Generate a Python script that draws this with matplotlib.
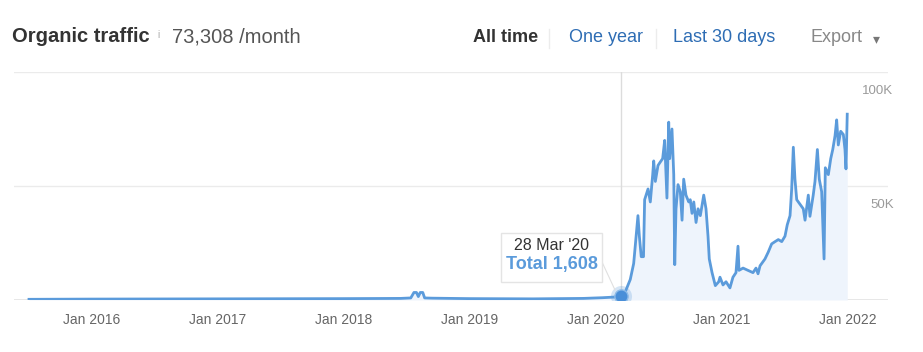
#! /usr/bin/env python3
import matplotlib
matplotlib.use('Agg')
import matplotlib.pyplot as plt

plt.rcParams['font.family'] = ['Liberation Sans', 'DejaVu Sans']

# organic traffic (decimal year -> visits)
years = [2015.50, 2016.00, 2016.50, 2017.00, 2017.50, 2018.00, 2018.45, 2018.53,
         2018.555, 2018.575, 2018.59, 2018.605, 2018.625, 2018.64, 2018.70,
         2019.00, 2019.50, 2019.90, 2020.05, 2020.15, 2020.198,
         2020.233, 2020.272, 2020.299, 2020.312, 2020.333, 2020.344, 2020.359,
         2020.377, 2020.386, 2020.413, 2020.431, 2020.450, 2020.458, 2020.471,
         2020.492, 2020.510, 2020.529, 2020.545, 2020.563, 2020.577, 2020.585,
         2020.603, 2020.617, 2020.625, 2020.635, 2020.651, 2020.669, 2020.683,
         2020.696, 2020.714, 2020.736, 2020.748, 2020.762, 2020.776, 2020.794,
         2020.810, 2020.828, 2020.855, 2020.873, 2020.889, 2020.899, 2020.921,
         2020.947, 2020.974, 2020.984, 2021.008, 2021.032, 2021.063, 2021.087,
         2021.111, 2021.127, 2021.135, 2021.167, 2021.206, 2021.246, 2021.270,
         2021.286, 2021.302, 2021.341, 2021.367, 2021.394, 2021.421, 2021.447,
         2021.474, 2021.500, 2021.518, 2021.540, 2021.553, 2021.566, 2021.579,
         2021.593, 2021.619, 2021.645, 2021.659, 2021.685, 2021.698, 2021.724,
         2021.738, 2021.757, 2021.772, 2021.791, 2021.810, 2021.820, 2021.844,
         2021.863, 2021.879, 2021.897, 2021.910, 2021.923, 2021.942, 2021.963,
         2021.976, 2021.984, 2021.994]
visits = [300, 400, 450, 500, 550, 600, 700, 900,
          3300, 3300, 1500, 3300, 3300, 900, 800,
          600, 500, 700, 1000, 1300, 1608,
          3700, 9000, 16000, 24000, 37000, 28000, 19000,
          19000, 44000, 48700, 43000, 55000, 61000, 52000,
          59000, 60500, 62000, 70000, 44700, 78000, 62000,
          75000, 55000, 15500, 40000, 50600, 47500, 35000,
          53000, 46000, 43000, 44000, 38000, 43000, 34000,
          40000, 37000, 46000, 40000, 28000, 18000, 12000,
          6300, 8000, 10000, 6600, 8000, 5300, 10000,
          12000, 23600, 13000, 14000, 13000, 12000, 14000,
          11500, 15000, 18000, 21000, 24600, 25600, 26500,
          25600, 28000, 33000, 37000, 48700, 67000, 53000,
          44000, 42000, 40000, 35000, 46000, 36700, 46000,
          52000, 66000, 53000, 47500, 18000, 58000, 55000,
          62000, 66000, 72000, 79000, 68000, 74000, 72600,
          66000, 57500, 81500]

tick_years = [2016, 2017, 2018, 2019, 2020, 2021, 2022]
tick_labels = ['Jan 2016', 'Jan 2017', 'Jan 2018', 'Jan 2019',
               'Jan 2020', 'Jan 2021', 'Jan 2022']
y_grid = [50000, 100000]
y_labels = ['50K', '100K']

hover_year = 2020.198
hover_value = 1608

W, H = 923, 352
fig = plt.figure(figsize=(W / 100, H / 100), dpi=100)


def px(x, y):
    return x / W, 1 - y / H


ax = fig.add_axes([14 / W, 1 - 300 / H, (888 - 14) / W, (300 - 72) / H])
ax.set_xlim(2016 + (14 - 92) / 126, 2016 + (888 - 92) / 126)
ax.set_ylim(0, 100000)
for s in ax.spines.values():
    s.set_visible(False)

for g in y_grid:
    ax.axhline(g, color='#ebebeb', lw=1, zorder=0)
ax.axhline(0, color='#e3e3e3', lw=1.2, zorder=0)
ax.axvline(hover_year, color='#dcdcdc', lw=1, zorder=1)

ax.fill_between(years, visits, color='#eef4fc', zorder=1, lw=0)
ax.plot(years, visits, color='#5b9bdb', lw=2, solid_joinstyle='round', zorder=3)

ax.scatter([hover_year], [hover_value], s=230, color='#5b9bdb', alpha=0.25, lw=0, zorder=4)
ax.scatter([hover_year], [hover_value], s=90, color='#4a8fd8', edgecolor='#8dbbe8',
           lw=1, zorder=5)

ax.set_xticks(tick_years)
ax.set_xticklabels(tick_labels, color='#666666', fontsize=10)
ax.tick_params(axis='x', length=0, pad=9)
ax.set_yticks([])

for g, lab in zip(y_grid, y_labels):
    ax.annotate(lab, xy=(1, g), xycoords=('axes fraction', 'data'),
                xytext=(4, -13.5), textcoords='offset points',
                ha='right', va='center', color='#9a9a9a', fontsize=9.5)

# tooltip
box = plt.Rectangle(px(501, 282), 101 / W, 49 / H, transform=fig.transFigure,
                    facecolor='white', edgecolor='#e4e4e4', lw=1, zorder=6)
fig.add_artist(box)
fig.add_artist(plt.Line2D([602 / W, 615 / W], [1 - 262 / H, 1 - 290 / H],
                          transform=fig.transFigure, color='#e0e0e0', lw=0.8))
fig.text(*px(552, 245), "28 Mar '20", ha='center', va='center',
         fontsize=11.5, color='#333333', zorder=7)
fig.text(*px(552, 265), 'Total 1,608', ha='center', va='center',
         fontsize=13, fontweight='bold', color='#5b9bdb', zorder=7)

# header
fig.text(*px(12, 37), 'Organic traffic', ha='left', va='center',
         fontsize=14.5, fontweight='bold', color='#333333')
fig.text(*px(157, 35), 'i', ha='left', va='center', fontsize=7, color='#aaaaaa')
fig.text(*px(172, 37), '73,308 /month', ha='left', va='center',
         fontsize=14.5, color='#555555')

fig.text(*px(473, 38), 'All time', ha='left', va='center',
         fontsize=13, fontweight='bold', color='#333333')
fig.text(*px(569, 38), 'One year', ha='left', va='center',
         fontsize=13, color='#2e6db4')
fig.text(*px(673, 38), 'Last 30 days', ha='left', va='center',
         fontsize=13, color='#2e6db4')
fig.text(*px(810, 38), 'Export', ha='left', va='center',
         fontsize=13, color='#888888')
fig.text(*px(873, 39), '▾', ha='left', va='center', fontsize=10,
         color='#777777', family='DejaVu Sans')
for sx in (549, 656):
    fig.add_artist(plt.Line2D([sx / W, sx / W], [1 - 29 / H, 1 - 48 / H],
                              transform=fig.transFigure, color='#ececec', lw=1))

fig.savefig('out.png', dpi=100, facecolor='white')
